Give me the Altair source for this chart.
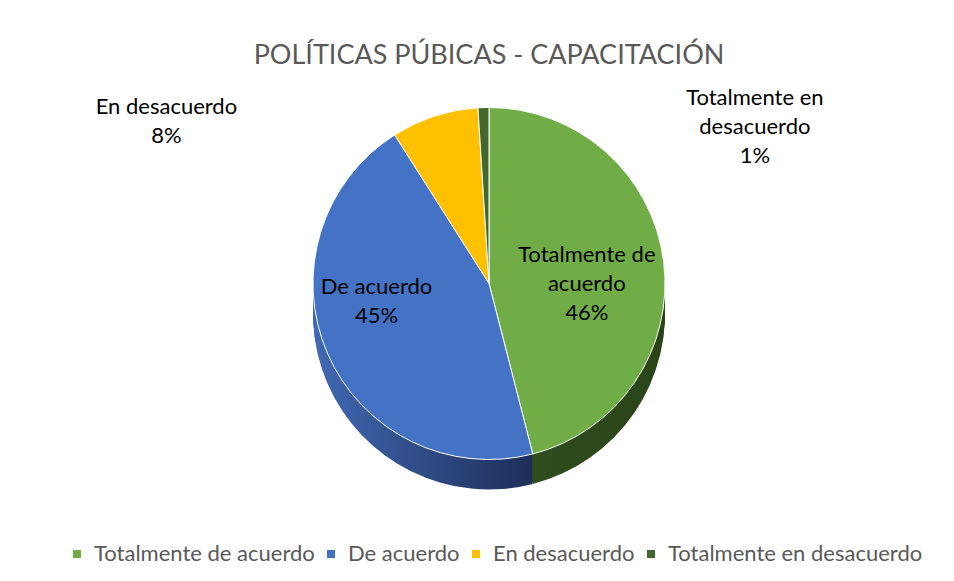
import altair as alt
import pandas as pd

categories = ["Totalmente de acuerdo", "De acuerdo", "En desacuerdo", "Totalmente en desacuerdo"]
values = [46, 45, 8, 1]
label_lines = ["Totalmente de\nacuerdo", "De acuerdo", "En desacuerdo", "Totalmente en\ndesacuerdo"]
top_colors = ["#70AD47", "#4472C4", "#FFC000", "#43682B"]

df = pd.DataFrame({
    "cat": categories,
    "value": values,
    "idx": list(range(len(categories))),
    "lab": label_lines,
})

R = 176
DEPTH = 30
FONT = "Lato"

geo = alt.Chart(df).transform_window(
    cum="sum(value)", sort=[alt.SortField("idx")]
).transform_joinaggregate(tot="sum(value)").transform_calculate(
    a0="2*PI*(datum.cum - datum.value)/datum.tot",
    a1="2*PI*datum.cum/datum.tot",
    mid="PI*(2*datum.cum - datum.value)/datum.tot",
    txt="datum.lab + '\\n' + datum.value + '%'",
)

th = dict(theta=alt.Theta("a0:Q", scale=None), theta2="a1:Q")

side_fill = {
    "De acuerdo": alt.Gradient(gradient="linear", x1=0, x2=1, y1=0, y2=0,
                               stops=[alt.GradientStop(color="#4169B4", offset=0),
                                      alt.GradientStop(color="#1E2E58", offset=1)]),
    "Totalmente de acuerdo": alt.Gradient(gradient="linear", x1=0, x2=1, y1=0, y2=0,
                               stops=[alt.GradientStop(color="#30501F", offset=0),
                                      alt.GradientStop(color="#2A4419", offset=1)]),
    "En desacuerdo": "#B08500",
    "Totalmente en desacuerdo": "#2C4520",
}

layers = []
for k in range(DEPTH, 0, -2):
    for cat, col in side_fill.items():
        layers.append(
            geo.transform_filter(alt.datum.cat == cat)
            .mark_arc(outerRadius=R, yOffset=k, color=col)
            .encode(**th)
        )

top = geo.mark_arc(outerRadius=R, stroke="white", strokeWidth=1).encode(
    **th,
    color=alt.Color(
        "cat:N",
        scale=alt.Scale(domain=categories, range=top_colors),
        sort=categories,
        legend=alt.Legend(
            orient="bottom", direction="horizontal", title=None,
            symbolType="square", symbolSize=64, labelFontSize=22,
            labelFont=FONT, labelColor="#595959", columnPadding=5,
            symbolStrokeWidth=0, labelOffset=6, labelLimit=0, offset=46,
        ),
    ),
)

txt_style = dict(fontSize=22, font=FONT, color="#000000", lineBreak="\n",
                 align="center", baseline="middle", lineHeight=29)

lab_green = geo.transform_filter(alt.datum.idx == 0).mark_text(
    radius=R * 0.56, dy=-16, **txt_style
).encode(theta=alt.Theta("mid:Q", scale=None), text="txt:N")

lab_blue = geo.transform_filter(alt.datum.idx == 1).mark_text(
    radius=R * 0.56, dx=-22, dy=-36, **txt_style
).encode(theta=alt.Theta("mid:Q", scale=None), text="txt:N")

lab_yellow = geo.transform_filter(alt.datum.idx == 2).mark_text(
    radius=R + 20, dx=-262, dy=10, **txt_style
).encode(theta=alt.Theta("mid:Q", scale=None), text="txt:N")

lab_dkgreen = geo.transform_filter(alt.datum.idx == 3).mark_text(
    radius=R + 20, dx=272, dy=10, **txt_style
).encode(theta=alt.Theta("mid:Q", scale=None), text="txt:N")

chart = alt.layer(*layers, top, lab_green, lab_blue, lab_yellow, lab_dkgreen).properties(
    width=938, height=565,
    autosize=alt.AutoSizeParams(type="fit", contains="padding"),
    padding={"top": 34, "left": 58, "right": 34, "bottom": 8},
    title=alt.TitleParams("POLÍTICAS PÚBICAS - CAPACITACIÓN", font=FONT,
                          fontSize=27, fontWeight="normal", color="#595959", offset=0),
).configure_view(stroke=None)

chart.save("out.html", embed_options={"renderer": "svg", "actions": False})
